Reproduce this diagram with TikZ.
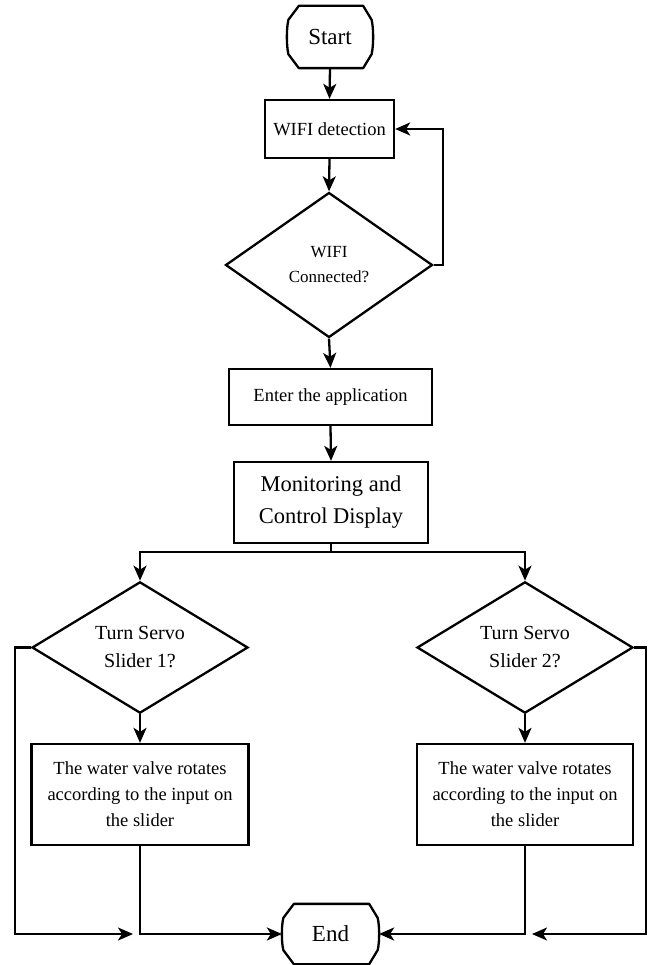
\documentclass[tikz,border=0pt]{standalone}
\usepackage{fontspec}
\setmainfont{Liberation Serif}
\usetikzlibrary{arrows.meta,shapes.geometric,calc}
\newcommand\termoutline[1]{%
  \draw[line join=round]
    ($(#1.north west)+(12,0)$) -- ($(#1.north east)+(-10,0)$)
    -- ($(#1.north east)+(-1.5,14)$)
    .. controls ($(#1.east)+(0.5,-8)$) and ($(#1.east)+(0.5,8)$) .. ($(#1.south east)+(-1.5,-14)$)
    -- ($(#1.south east)+(-10,0)$) -- ($(#1.south west)+(12,0)$)
    -- ($(#1.south west)+(1.5,-14)$)
    .. controls ($(#1.west)+(-0.5,8)$) and ($(#1.west)+(-0.5,-8)$) .. ($(#1.north west)+(1.5,14)$)
    -- cycle;}
\begin{document}
\begin{tikzpicture}[x=1pt,y=-1pt,line width=2.3pt,
  box/.style={draw,rectangle,inner sep=0pt,align=center},
  dia/.style={draw,diamond,inner sep=0pt,align=center},
  term/.style={rectangle,inner sep=0pt,align=center},
  arr/.style={-{Stealth[length=15pt,width=13pt,inset=4pt]}}]
\useasboundingbox[fill=white] (0,0) rectangle (651,965);

\node[term,minimum width=84pt,minimum height=60pt,font=\fontsize{23}{26}\selectfont] (start) at (330,37) {Start};
\termoutline{start}
\node[box,minimum width=129pt,minimum height=58pt,font=\fontsize{18.5}{22}\selectfont] (wifi) at (329.5,129) {WIFI detection};
\node[dia,minimum width=207pt,minimum height=145pt,font=\fontsize{17}{25}\selectfont] (conn) at (329,265) {WIFI\\Connected?};
\node[box,minimum width=203pt,minimum height=56pt,font=\fontsize{18.5}{22}\selectfont] (enter) at (330.5,397) {Enter the application};
\node[box,minimum width=194pt,minimum height=81pt,font=\fontsize{22.5}{32}\selectfont] (mon) at (331,502.5) {Monitoring and\\Control Display};
\node[dia,minimum width=216pt,minimum height=129pt,font=\fontsize{20}{28}\selectfont] (d1) at (140,647.5) {Turn Servo\\Slider 1?};
\node[dia,minimum width=216pt,minimum height=129pt,font=\fontsize{20}{28}\selectfont] (d2) at (525,647.5) {Turn Servo\\Slider 2?};
\node[box,minimum width=217pt,minimum height=101pt,font=\fontsize{18.5}{26}\selectfont] (b1) at (140,794.5) {The water valve rotates\\according to the input on\\the slider};
\node[box,minimum width=216pt,minimum height=101pt,font=\fontsize{18.5}{26}\selectfont] (b2) at (525,794.5) {The water valve rotates\\according to the input on\\the slider};
\node[term,minimum width=95pt,minimum height=58pt,font=\fontsize{23}{26}\selectfont] (end) at (330.5,934) {End};
\termoutline{end}

\coordinate (split) at (331,552);
\coordinate (j1) at (133,934);
\coordinate (j2) at (532,934);

\draw[arr] (start.south) -- (wifi.north);
\draw[arr] (wifi.south) -- (conn.north);
\draw[arr] (conn.east) -- ++(9,0) |- (wifi.east);
\draw[arr] (conn.south) -- (enter.north);
\draw[arr] (enter.south) -- (mon.north);
\draw (mon.south) -- (split);
\draw[arr] (split) -| (d1.north);
\draw[arr] (split) -| (d2.north);
\draw[arr] (d1.south) -- (b1.north);
\draw[arr] (d2.south) -- (b2.north);
\draw[arr] (b1.south) |- (end.west);
\draw[arr] (b2.south) |- (end.east);
\draw[arr] (d1.west) -- ++(-16,0) |- (j1);
\draw[arr] (d2.east) -- ++(12,0) |- (j2);
\end{tikzpicture}
\end{document}
